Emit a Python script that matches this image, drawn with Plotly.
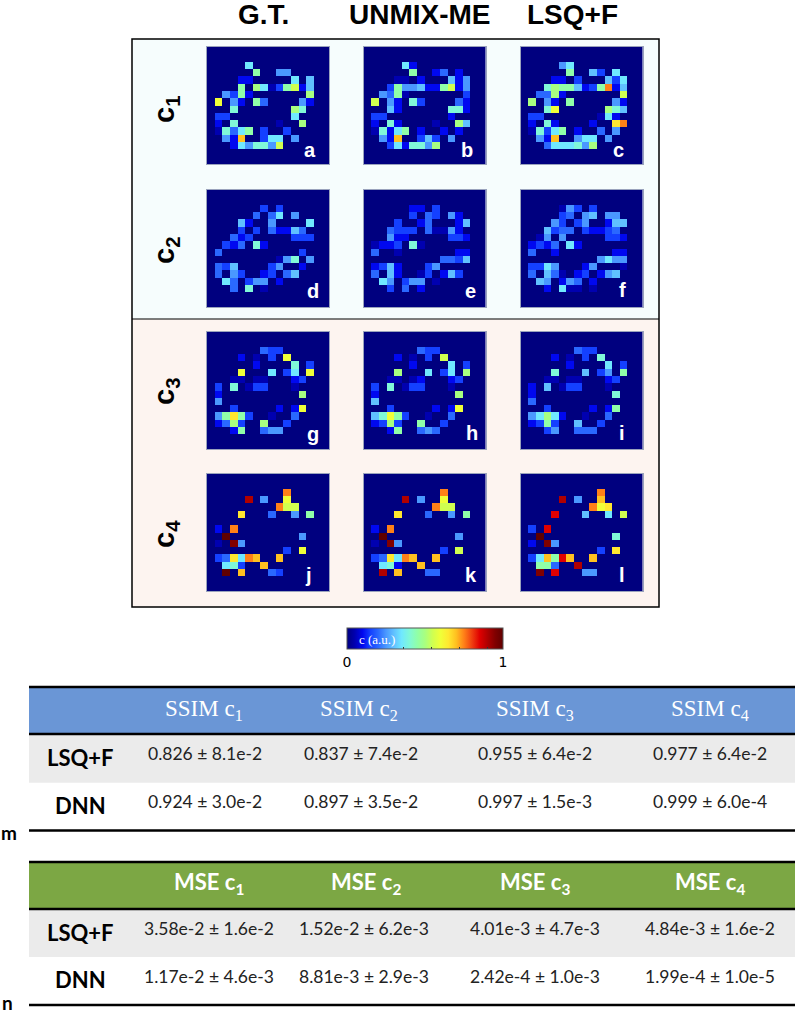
import plotly.graph_objects as go

W, H = 797, 1015
E = "................"

# Each string is one image row; '.'=0 and 1..9,a..k are twentieths of the colour range.
C1_GT = [E, E, ".....7..........", "......9..55.....", "....22.....7.6..", "....9.a7139b26..",
         "..5392.......a..", ".c.52.94....52..", "...8.......a8...", ".33........7....",
         ".2.8.....1..a...", ".18479.3..3.....", "..52e..377.5....", "...275885b......", E, E]
C1_UNMIX = [E, E, ".....72.........", "......9..24.2...", "....11.2...625..", "...39556229b25..",
            "..5491.......3..", ".b.52.83....42..", "...62......882..", ".33........2....",
            ".2.82....1..a6..", ".18279.2..2.2...", "..52e..363.5....", "...372885a......", E, E]
C1_LSQ = [E, E, ".....57.........", "......9..63.7...", "....22.3...637..", "...8a996239f26..",
          "..44a2.......b..", ".a.52.9.....52..", "...8c......a86..", ".33.......172...",
          ".2.82....2..df..", ".18379.2..4.5...", "..52e..577.5....", "...477785a......", E, E]
C2_GT = [E, E, ".......3.3......", "......4.47.5....", "....62..5....7..", "....3.3.42264...",
         "...423.....333..", "..324.82........", ".4..........3...", ".........158.5..",
         ".436....35..2...", ".4.53..23.46....", "..74.355.2......", "...4.8.1........", E, E]
C2_UNMIX = [E, E, "......22.3......", "......3.43.52...", "....3..24...26..", "...4333.41152...",
            "...522.....332..", ".1223.81........", ".4..1.......22..", "..........4436..",
            ".2362...35......", ".4.62..13.263...", "..75.355.1......", "...3.4.2........", E, E]
C2_LSQ = [E, E, ".....153.3......", ".....34.56.55...", "....53.35..266..", "...6344.32234...",
          "..15.5.....332..", ".2324.72........", ".4..2.......22..", "..........5755..",
          ".3375...25...1..", ".4.641.23.256...", "..65.254.2......", "...2.711.1......", E, E]
C3_GT = [E, E, ".......433......", "....2.1.3.c.....", "......2....8.3..", "....c...7.37.c..",
         "...11.11...23...", ".3.8.133...1....", ".2..........a...", ".5..............",
         "...3.....2.2c...", ".59d93..1..4....", ".24a3..a..3.....", "...29..455......", E, E]
C3_UNMIX = [E, E, ".......433......", "....2.1.3.b.....", "......2....7.3..", "....a...7.37.a..",
            "...11.12...23...", ".3.8.133...1....", ".2..........a...", ".6..............",
            "...3.....2.2c...", ".68c93..1..4....", ".23a3..9..3.....", "...29..454......", E, E]
C3_LSQ = [E, E, ".......433......", "....2.1.3.8.....", "......2....7.3..", "....8...6.35.9..",
          "...11.11...23...", ".2.6.133...1....", ".2..........8...", ".4..............",
          "...3.....2.29...", ".57a72..1..4....", ".2393..6..3.....", "...35..444......", E, E]
C4_GT = [E, E, "..........f.....", ".....i.5..c.....", ".........fbb....", "....d...4..5.9..",
         E, ".2.f............", "..k.........5...", ".1.j5...........",
         "..........3.c...", ".34d7fe..e......", "..783..e........", "..k.e...43......", E, E]
C4_UNMIX = [E, E, "..........f.....", ".....i.5..c.....", ".........fbb....", "....d...4..5.9..",
            E, ".2.f............", "..k.........5...", ".1.j5...........",
            "..........3.b...", ".34d7fe..e......", "..782..e........", "..i.e...44......", E, E]
C4_LSQ = [E, E, "..........f.....", ".....i.5..e.....", ".........fcd....", "....h...6..7.b..",
          E, ".3.h............", "..k.........8...", ".2.j5...........",
          "..........3.d...", ".37e9he..e......", "..994..i........", "..j.h...55......", E, E]

PANELS = [C1_GT, C1_UNMIX, C1_LSQ, C2_GT, C2_UNMIX, C2_LSQ,
          C3_GT, C3_UNMIX, C3_LSQ, C4_GT, C4_UNMIX, C4_LSQ]
PANEL_LETTERS = list("abcdefghijkl")
METHODS = ["G.T.", "UNMIX-ME", "LSQ+F"]
COMPONENTS = ["1", "2", "3", "4"]

ROW_LABELS = ["LSQ+F", "DNN"]
SSIM_HEAD = ["1", "2", "3", "4"]
SSIM_LSQ = ["0.826 ± 8.1e-2", "0.837 ± 7.4e-2", "0.955 ± 6.4e-2", "0.977 ± 6.4e-2"]
SSIM_DNN = ["0.924 ± 3.0e-2", "0.897 ± 3.5e-2", "0.997 ± 1.5e-3", "0.999 ± 6.0e-4"]
MSE_LSQ = ["3.58e-2 ± 1.6e-2", "1.52e-2 ± 6.2e-3", "4.01e-3 ± 4.7e-3", "4.84e-3 ± 1.6e-2"]
MSE_DNN = ["1.17e-2 ± 4.6e-3", "8.81e-3 ± 2.9e-3", "2.42e-4 ± 1.0e-3", "1.99e-4 ± 1.0e-5"]

JET = [[0, "#00007f"], [0.05, "#0000b0"], [0.1, "#0008f0"], [0.15, "#1440ff"], [0.2, "#2a68ff"],
       [0.25, "#4a98ff"], [0.3, "#60c0ff"], [0.35, "#70e8ff"], [0.4, "#80f8d8"], [0.45, "#90ffa8"],
       [0.5, "#a8ff80"], [0.55, "#d0ff50"], [0.6, "#f0ff38"], [0.65, "#ffe830"], [0.7, "#ffc020"],
       [0.75, "#ff8018"], [0.8, "#f04010"], [0.85, "#e00000"], [0.9, "#b00000"], [0.95, "#800000"],
       [1, "#600000"]]


def px(x):
    return x / W


def py(y):
    return 1 - y / H


def decode(rows):
    return [[0 if ch == "." else int(ch, 36) / 20 for ch in row] for row in rows]


def rect(x0, y0, x1, y1, fill=None, line=None, lw=0, layer="below"):
    return dict(type="rect", xref="paper", yref="paper", x0=px(x0), x1=px(x1), y0=py(y1), y1=py(y0),
                fillcolor=fill or "rgba(0,0,0,0)", line=dict(color=line or "rgba(0,0,0,0)", width=lw), layer=layer)


def note(x, y, text, size, color="black", family="Liberation Sans", bold=False, angle=0):
    t = f"<b>{text}</b>" if bold else text
    return dict(x=px(x), y=py(y), xref="paper", yref="paper", text=t, showarrow=False, textangle=angle,
                xanchor="center", yanchor="middle", font=dict(size=size, color=color, family=family))


fig = go.Figure()
COL_LEFT = [207, 363.7, 520.7]
ROW_TOP = [47, 190, 332, 474]
PW, PH = 122, 117.3
layout = {}
letter_pos = [(310, 150), (466.7, 150), (618, 150), (312.7, 290.7), (470.7, 290.7), (622.7, 290),
              (312.7, 434), (471.7, 433), (622, 433), (308, 575), (471, 575), (622, 575)]
annotations = []

for i, rows in enumerate(PANELS):
    n = i + 1
    r, c = divmod(i, 3)
    fig.add_trace(go.Heatmap(z=decode(rows), xaxis=f"x{n}", yaxis=f"y{n}", coloraxis="coloraxis", hoverinfo="skip"))
    layout[f"xaxis{n}"] = dict(domain=[px(COL_LEFT[c]), px(COL_LEFT[c] + PW)], anchor=f"y{n}", showticklabels=False,
                               ticks="", showgrid=False, zeroline=False, showline=True, mirror=True,
                               linecolor="#9aa3bd", linewidth=1, range=[-0.5, 15.5])
    layout[f"yaxis{n}"] = dict(domain=[py(ROW_TOP[r] + PH), py(ROW_TOP[r])], anchor=f"x{n}", showticklabels=False,
                               ticks="", showgrid=False, zeroline=False, showline=True, mirror=True,
                               linecolor="#9aa3bd", linewidth=1, range=[15.5, -0.5])
    annotations.append(note(*letter_pos[i], PANEL_LETTERS[i], 20, "white", bold=True))

for x, m in zip([263, 420, 572], METHODS):
    annotations.append(note(x, 14, m, 28, bold=True))
for y, c in zip([110, 251, 392, 534], COMPONENTS):
    annotations.append(note(166, y, f"c<sub>{c}</sub>", 29, bold=True, angle=-90))

annotations.append(note(377, 639, "c (a.u.)", 13, "white", "Liberation Serif"))

CX_M = [204, 359, 534.7, 709.6]
CX_M_V = [205, 361, 534.7, 709.5]
CX_N = [209, 366, 534.8, 709.5]
CX_N_V = [209, 364, 534.7, 709.5]
for j in range(4):
    annotations.append(note(CX_M[j], 710, f"SSIM c<sub>{SSIM_HEAD[j]}</sub>", 23, "white", "Liberation Serif"))
    annotations.append(note(CX_M_V[j], 753, SSIM_LSQ[j], 17.5, "#222222", "Lato"))
    annotations.append(note(CX_M_V[j], 801.5, SSIM_DNN[j], 17.5, "#222222", "Lato"))
    annotations.append(note(CX_N[j], 883, f"MSE c<sub>{SSIM_HEAD[j]}</sub>", 22, "white", "Lato", bold=True))
    annotations.append(note(CX_N_V[j], 928, MSE_LSQ[j], 17.5, "#222222", "Lato"))
    annotations.append(note(CX_N_V[j], 976, MSE_DNN[j], 17.5, "#222222", "Lato"))
for y, label in zip([757, 805, 932, 979], ROW_LABELS * 2):
    annotations.append(note(80, y, label, 22, "black", "Lato", bold=True))
annotations.append(note(9, 832, "m", 19, "black", "Lato", bold=True))
annotations.append(note(7, 1002, "n", 19, "black", "Lato", bold=True))

shapes = [
    rect(132, 39, 659, 319, "#f6fdfd"),
    rect(132, 319, 659, 607, "#fdf4f0"),
    rect(29, 687, 795, 734, "#6a96d6"),
    rect(29, 735, 795, 782.7, "#ebebeb"),
    rect(29, 862, 795, 909, "#7ca744"),
    rect(29, 910, 795, 957, "#ebebeb"),
]
for y in [687, 734, 830.5, 862, 909, 1005]:
    shapes.append(dict(type="line", xref="paper", yref="paper", x0=px(29), x1=px(795), y0=py(y), y1=py(y),
                       line=dict(color="black", width=2.5), layer="above"))
shapes.append(rect(132, 39, 659, 607, None, "black", 1.5, "above"))
shapes.append(dict(type="line", xref="paper", yref="paper", x0=px(132), x1=px(659), y0=py(319), y1=py(319),
                   line=dict(color="black", width=1.2), layer="above"))

fig.update_layout(
    width=W, height=H, margin=dict(l=0, r=0, t=0, b=0), paper_bgcolor="white", plot_bgcolor="white",
    showlegend=False, shapes=shapes, annotations=annotations,
    coloraxis=dict(colorscale=JET, cmin=0, cmax=1, colorbar=dict(
        orientation="h", lenmode="pixels", len=156, thicknessmode="pixels", thickness=21,
        x=px(425), xanchor="center", y=py(628), yanchor="top", ypad=0, xpad=0,
        tickvals=[0, 0.36, 0.54, 0.72, 0.9, 1], ticktext=["0", "", "", "", "", "1"],
        ticks="inside", ticklen=2, tickcolor="#333333", outlinecolor="#555555", outlinewidth=1,
        tickfont=dict(size=14, family="DejaVu Sans", color="black"))),
    **layout,
)
fig.write_html("out.html", config=dict(displayModeBar=False),
               post_script="document.body.style.margin='0';")
